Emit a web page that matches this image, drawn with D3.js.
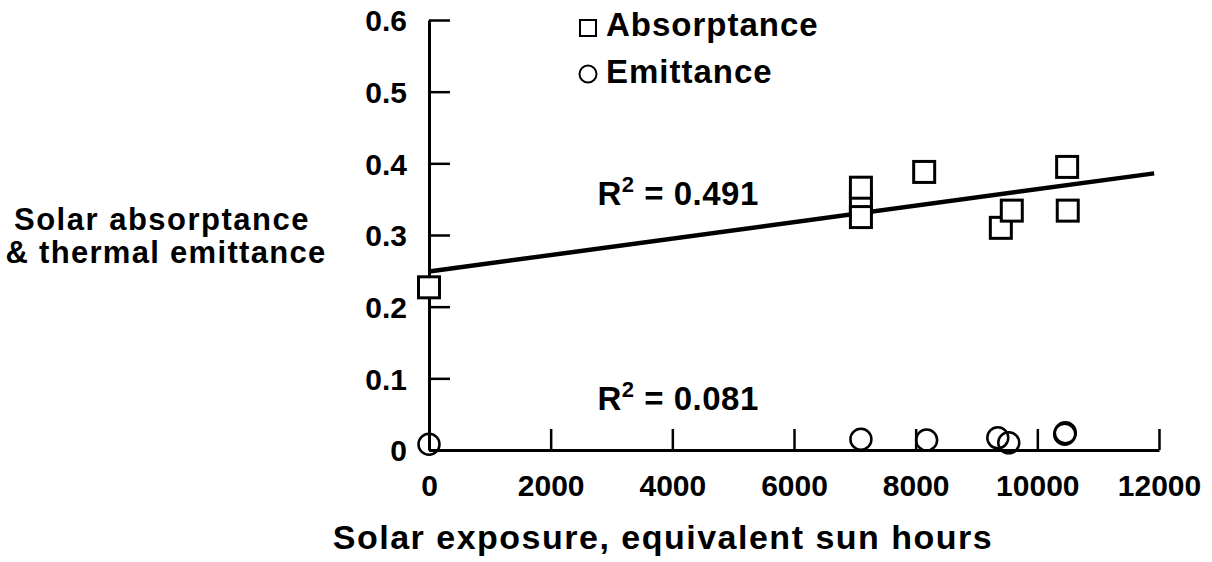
<!DOCTYPE html>
<html>
<head>
<meta charset="utf-8">
<script src="https://cdn.jsdelivr.net/npm/d3@7"></script>
<style>
  html, body { margin: 0; padding: 0; background: #fff; }
  svg { display: block; }
  text { font-family: "Liberation Sans", Arial, Helvetica, sans-serif; font-weight: bold; fill: #000; }
</style>
</head>
<body>
<svg id="chart" width="1212" height="562"></svg>
<script>
// ---- data ----
const xTicks = [0, 2000, 4000, 6000, 8000, 10000, 12000];
const yTicks = [0, 0.1, 0.2, 0.3, 0.4, 0.5, 0.6];
const yTickLabels = ["0", "0.1", "0.2", "0.3", "0.4", "0.5", "0.6"];

const absorptanceX = [0, 7100, 7100, 7100, 8140, 9400, 9580, 10490, 10500];
const absorptanceY = [0.227, 0.345, 0.366, 0.325, 0.388, 0.310, 0.334, 0.395, 0.334];

const emittanceX = [0, 7100, 8180, 9350, 9530, 10450, 10460];
const emittanceY = [0.008, 0.015, 0.014, 0.017, 0.010, 0.022, 0.024];

const fitX = [0, 11920];
const absorptanceFitY = [0.249, 0.386];

const seriesNames = ["Absorptance", "Emittance"];
const r2Labels = ["0.491", "0.081"];
const r2Anchor = [[2770, 0.342], [2770, 0.056]];

const xTitle = "Solar exposure, equivalent sun hours";
const yTitle = ["Solar absorptance", "& thermal emittance"];

// ---- layout ----
const svg = d3.select("#chart");
const x = d3.scaleLinear().domain([0, 12000]).range([429, 1159]);
const y = d3.scaleLinear().domain([0, 0.6]).range([450, 20]);

const tickFont = 30;
const wordFont = 33;

// axes
const yAxis = d3.axisLeft(y).tickValues(yTicks)
  .tickFormat((d, i) => yTickLabels[i]).tickSizeInner(-21).tickSizeOuter(0).tickPadding(22);
const gy = svg.append("g").attr("transform", `translate(${x(0)},0)`).call(yAxis);
gy.select(".domain").attr("stroke-width", 3).attr("stroke", "#000");
gy.selectAll(".tick line").attr("stroke-width", 2.5).attr("stroke", "#000");
gy.selectAll(".tick text").attr("font-size", tickFont).attr("dy", "0.36em");

const xAxis = d3.axisBottom(x).tickValues(xTicks)
  .tickFormat(d3.format("d")).tickSizeInner(-21).tickSizeOuter(0).tickPadding(25);
const gx = svg.append("g").attr("transform", `translate(0,${y(0)})`).call(xAxis);
gx.select(".domain").attr("stroke-width", 3).attr("stroke", "#000");
gx.selectAll(".tick line").attr("stroke-width", 2.5).attr("stroke", "#000")
  .filter(d => d === 0).remove();
gx.selectAll(".tick text").attr("font-size", tickFont).attr("dy", "0.71em");
svg.selectAll("g[font-family]").attr("font-family", null);
svg.selectAll(".tick text").attr("font-weight", "bold").attr("fill", "#000");

// regression line
svg.append("line")
  .attr("x1", x(fitX[0])).attr("y1", y(absorptanceFitY[0]))
  .attr("x2", x(fitX[1])).attr("y2", y(absorptanceFitY[1]))
  .attr("stroke", "#000").attr("stroke-width", 4.5).attr("stroke-linecap", "butt");

// absorptance squares
const sq = 21;
svg.append("g").selectAll("rect")
  .data(absorptanceX.map((d, i) => [d, absorptanceY[i]]))
  .join("rect")
  .attr("x", d => x(d[0]) - sq / 2).attr("y", d => y(d[1]) - sq / 2)
  .attr("width", sq).attr("height", sq)
  .attr("fill", "#fff").attr("stroke", "#000").attr("stroke-width", 3);

// emittance circles
svg.append("g").selectAll("circle")
  .data(emittanceX.map((d, i) => [d, emittanceY[i]]))
  .join("circle")
  .attr("cx", d => x(d[0])).attr("cy", d => y(d[1])).attr("r", 10.5)
  .attr("fill", "none").attr("stroke", "#000").attr("stroke-width", 2.5);

// R^2 labels
r2Labels.forEach((lab, i) => {
  const t = svg.append("text")
    .attr("x", x(r2Anchor[i][0])).attr("y", y(r2Anchor[i][1]))
    .attr("font-size", wordFont).attr("letter-spacing", 0.5);
  t.append("tspan").text("R");
  t.append("tspan").text("2").attr("font-size", 22).attr("dy", -13);
  t.append("tspan").text(" = " + lab).attr("dy", 13);
});

// legend
const lg = svg.append("g");
lg.append("rect").attr("x", 580).attr("y", 20).attr("width", 16).attr("height", 16)
  .attr("fill", "none").attr("stroke", "#000").attr("stroke-width", 2);
lg.append("circle").attr("cx", 588).attr("cy", 74).attr("r", 8.5)
  .attr("fill", "none").attr("stroke", "#000").attr("stroke-width", 2);
lg.append("text").attr("x", 606).attr("y", 36).attr("font-size", wordFont)
  .attr("letter-spacing", 1).text(seriesNames[0]);
lg.append("text").attr("x", 606).attr("y", 83).attr("font-size", wordFont)
  .attr("letter-spacing", 1).text(seriesNames[1]);

// titles
svg.append("text").attr("x", 663).attr("y", 549).attr("text-anchor", "middle")
  .attr("font-size", 34).attr("letter-spacing", 1.5).text(xTitle);
svg.append("text").attr("x", 162).attr("y", 230).attr("text-anchor", "middle")
  .attr("font-size", 31).attr("letter-spacing", 1.5).text(yTitle[0]);
svg.append("text").attr("x", 166).attr("y", 263).attr("text-anchor", "middle")
  .attr("font-size", 31).attr("letter-spacing", 1.3).text(yTitle[1]);
</script>
</body>
</html>
